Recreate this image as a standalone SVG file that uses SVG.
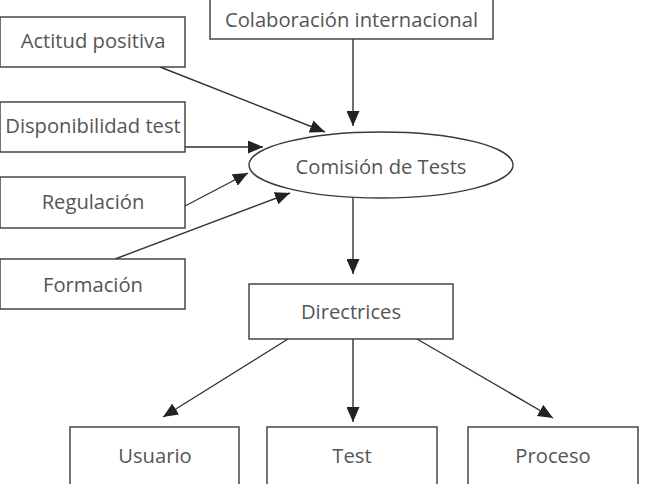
<svg xmlns="http://www.w3.org/2000/svg" width="653" height="484" viewBox="0 0 653 484">
<style>
.box{fill:#fff;stroke:#3a3a3a;stroke-width:1.4}
.lbl{font-family:"Open Sans","Noto Sans",sans-serif;font-size:20.2px;fill:#555;text-anchor:middle}
.con{stroke:#333;stroke-width:1.4;fill:none;marker-end:url(#ah)}
</style>
<defs>
<marker id="ah" viewBox="0 0 15 13" refX="15" refY="6.5" markerWidth="15" markerHeight="13" markerUnits="userSpaceOnUse" orient="auto">
<path d="M0,0 L15,6.5 L0,13 Z" fill="#222"/>
</marker>
</defs>
<rect width="653" height="484" fill="#fff"/>
<g id="connectors">
<line class="con" x1="353" y1="39" x2="353" y2="126"/>
<line class="con" x1="160" y1="67" x2="325" y2="132"/>
<line class="con" x1="185" y1="147" x2="263" y2="147"/>
<line class="con" x1="185" y1="206" x2="248" y2="173"/>
<line class="con" x1="115" y1="259" x2="290" y2="193"/>
<line class="con" x1="353" y1="198" x2="353" y2="274"/>
<line class="con" x1="288" y1="339" x2="163" y2="417"/>
<line class="con" x1="353" y1="339" x2="353" y2="422"/>
<line class="con" x1="417" y1="339" x2="553" y2="418"/>
</g>
<g id="colaboracion"><rect class="box" x="210" y="-2" width="283" height="41"/><text class="lbl" x="351.5" y="27">Colaboración internacional</text></g>
<g id="actitud"><rect class="box" x="0" y="17" width="185" height="50"/><text class="lbl" x="93" y="48">Actitud positiva</text></g>
<g id="disponibilidad"><rect class="box" x="0" y="102" width="185" height="50"/><text class="lbl" x="93" y="133">Disponibilidad test</text></g>
<g id="regulacion"><rect class="box" x="0" y="177" width="185" height="51"/><text class="lbl" x="93" y="209">Regulación</text></g>
<g id="formacion"><rect class="box" x="0" y="259" width="185" height="50"/><text class="lbl" x="93" y="292">Formación</text></g>
<g id="comision"><ellipse class="box" cx="381" cy="165" rx="132" ry="33"/><text class="lbl" x="381" y="174">Comisión de Tests</text></g>
<g id="directrices"><rect class="box" x="249" y="284" width="204" height="55"/><text class="lbl" x="351" y="319">Directrices</text></g>
<g id="usuario"><rect class="box" x="70" y="427" width="169" height="60"/><text class="lbl" x="155" y="463">Usuario</text></g>
<g id="test"><rect class="box" x="267" y="427" width="170" height="60"/><text class="lbl" x="352" y="463">Test</text></g>
<g id="proceso"><rect class="box" x="468" y="427" width="170" height="60"/><text class="lbl" x="553" y="463">Proceso</text></g>
</svg>
